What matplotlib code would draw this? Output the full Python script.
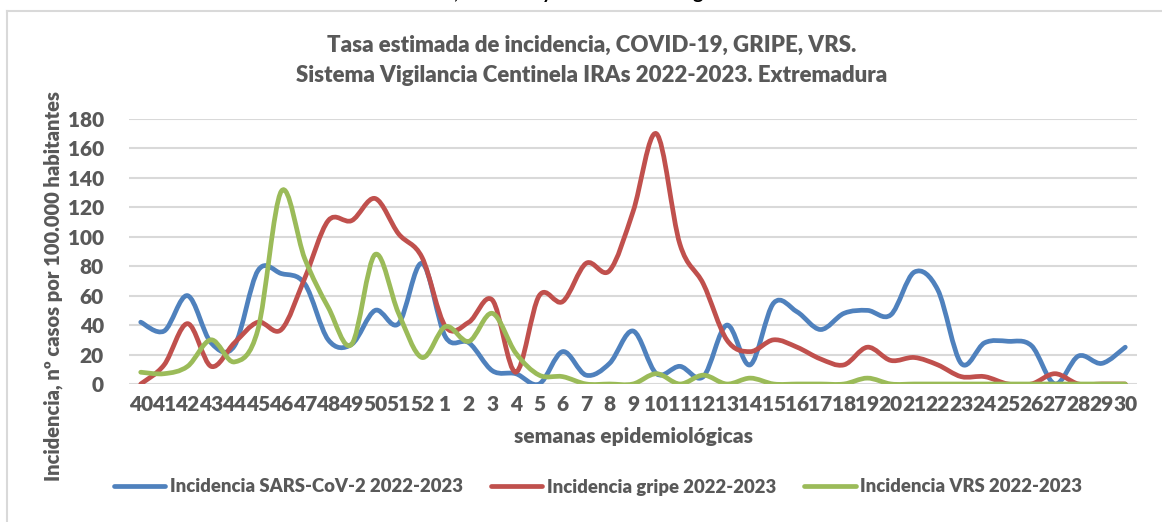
import numpy as np
import matplotlib
matplotlib.use("Agg")
import matplotlib.pyplot as plt
from matplotlib.path import Path
from matplotlib.patches import PathPatch
from matplotlib.lines import Line2D

# semanas epidemiologicas 40..52 (2022) y 1..30 (2023)
weeks = [str(w) for w in range(40, 53)] + [str(w) for w in range(1, 31)]

sars = [42, 36, 60, 28, 26, 77, 75, 68, 30, 27, 50, 41, 82, 32, 28, 9, 7,
        0, 22, 6, 14, 36, 7, 12, 5, 40, 13, 55, 49, 37, 48, 50, 47,
        76, 64, 14, 28, 29, 26, 0, 19, 14, 25]
gripe = [0, 13, 41, 12, 28, 42, 37, 72, 111, 111, 126, 102, 86, 39, 42, 57, 8,
         60, 56, 82, 77, 117, 170, 95, 68, 30, 22, 30, 25, 17, 13, 25, 16,
         18, 13, 5, 5, 0, 0, 7, 0, 0, 0]
vrs = [8, 7, 12, 30, 15, 37, 131, 85, 52, 27, 88, 48, 18, 39, 29, 48, 21,
       6, 5, 0, 0, 0, 7, 0, 6, 0, 4, 0, 0, 0, 0, 4, 0,
       0, 0, 0, 0, 0, 0, 0, 0, 0, 0]

series_names = ["Incidencia SARS-CoV-2 2022-2023",
                "Incidencia gripe 2022-2023",
                "Incidencia VRS 2022-2023"]
colors = ["#4F81BD", "#C0504D", "#9BBB59"]

FONT = "Lato"
GREY = "#595959"


def smooth_path(xs, ys):
    # Excel-style smoothed line: cubic Bezier through every point
    pts = np.column_stack([xs, ys]).astype(float)
    ext = np.vstack([pts[0], pts, pts[-1]])
    verts = [pts[0]]
    codes = [Path.MOVETO]
    for i in range(len(pts) - 1):
        p0, p1, p2, p3 = ext[i], ext[i + 1], ext[i + 2], ext[i + 3]
        c1 = p1 + (p2 - p0) / 6.0
        c2 = p2 - (p3 - p1) / 6.0
        verts += [c1, c2, p2]
        codes += [Path.CURVE4] * 3
    return Path(verts, codes)


fig = plt.figure(figsize=(11.62, 5.22), dpi=100)
ax = fig.add_axes([129 / 1162, 1 - 384 / 522, (1137 - 129) / 1162, (384 - 119) / 522])

x = np.arange(len(weeks))
for vals, c in zip([sars, gripe, vrs], colors):
    patch = PathPatch(smooth_path(x, vals), facecolor="none", edgecolor=c,
                      lw=3.4, capstyle="round", joinstyle="round", zorder=3)
    ax.add_patch(patch)

ax.set_xlim(-0.5, len(weeks) - 0.5)
ax.set_ylim(0, 180)
ax.set_yticks(range(0, 181, 20))
ax.set_xticks(x)
ax.set_xticklabels(weeks)
ax.yaxis.grid(True, color="#D9D9D9", lw=1.5)
ax.set_axisbelow(True)
for s in ax.spines.values():
    s.set_visible(False)
ax.tick_params(length=0, labelsize=15, labelcolor=GREY, pad=8)
ax.tick_params(axis="y", pad=18)
for lab in ax.get_xticklabels() + ax.get_yticklabels():
    lab.set_fontfamily(FONT)
    lab.set_fontweight("heavy")

ax.set_xlabel("semanas epidemiológicas", fontsize=15, fontweight="heavy",
              color=GREY, family=FONT, labelpad=9)
fig.text(53 / 1162, 1 - 286 / 522, "Incidencia, nº casos por 100.000 habitantes",
         rotation=90, ha="center", va="center", fontsize=14.5, fontweight="heavy",
         color=GREY, family=FONT)

fig.text(592 / 1162, 1 - 45 / 522, "Tasa estimada de incidencia, COVID-19, GRIPE, VRS.",
         ha="center", va="center", fontsize=16, fontweight="heavy", color=GREY, family=FONT)
fig.text(592 / 1162, 1 - 76 / 522, "Sistema Vigilancia Centinela IRAs 2022-2023. Extremadura",
         ha="center", va="center", fontsize=16, fontweight="heavy", color=GREY, family=FONT)

handles = [Line2D([], [], color=c, lw=3.4, solid_capstyle="round") for c in colors]
fig.legend(handles, series_names, loc="center", bbox_to_anchor=(598 / 1162, 1 - 487 / 522),
           ncol=3, frameon=False, handlelength=2.8, handletextpad=0.25, columnspacing=1.5,
           prop={"family": FONT, "weight": "heavy", "size": 13.3}, labelcolor=GREY)

# chart frame (only top and left edges are inside the crop)
fig.add_artist(Line2D([7 / 1162, 7 / 1162], [0, 1 - 11 / 522], color="#D9D9D9", lw=1.5,
                      transform=fig.transFigure))
fig.add_artist(Line2D([7 / 1162, 1], [1 - 11 / 522, 1 - 11 / 522], color="#D9D9D9", lw=1.5,
                      transform=fig.transFigure))

# cut-off caption text above the chart
for px, ch in [(455, ","), (547, "y"), (698, "g")]:
    fig.text(px / 1162, 1.0 + 1 / 522, ch, ha="center", va="baseline", fontsize=14,
             fontweight="bold", color="black", family=FONT)

fig.savefig("out.png", dpi=100, facecolor="white")
